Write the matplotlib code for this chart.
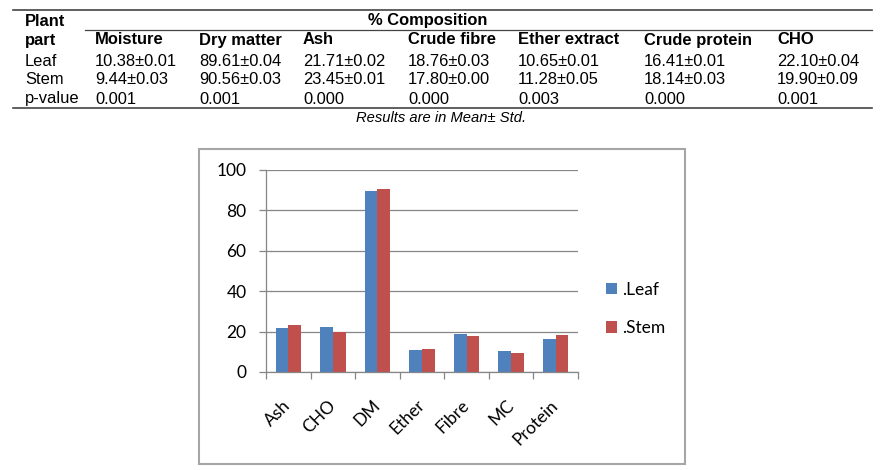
import numpy as np
import matplotlib
matplotlib.use("Agg")
import matplotlib.pyplot as plt
from matplotlib.patches import Rectangle
from matplotlib.lines import Line2D

# table data
columns = ["Moisture", "Dry matter", "Ash", "Crude fibre", "Ether extract", "Crude protein", "CHO"]
leaf_row = ["10.38±0.01", "89.61±0.04", "21.71±0.02", "18.76±0.03", "10.65±0.01", "16.41±0.01", "22.10±0.04"]
stem_row = ["9.44±0.03", "90.56±0.03", "23.45±0.01", "17.80±0.00", "11.28±0.05", "18.14±0.03", "19.90±0.09"]
p_row = ["0.001", "0.001", "0.000", "0.000", "0.003", "0.000", "0.001"]

# chart data
categories = ["Ash", "CHO", "DM", "Ether", "Fibre", "MC", "Protein"]
leaf = [21.71, 22.10, 89.61, 10.65, 18.76, 10.38, 16.41]
stem = [23.45, 19.90, 90.56, 11.28, 17.80, 9.44, 18.14]

W, H = 886, 470
fig = plt.figure(figsize=(W / 100, H / 100), dpi=100)


def fx(x):
    return x / W


def fy(y):
    return 1 - y / H


tfont = "Liberation Sans"
fs = 11.9

# table rules
fig.add_artist(Line2D([fx(13), fx(872)], [fy(9.5), fy(9.5)], color="#444444", lw=1.2))
fig.add_artist(Line2D([fx(85), fx(872)], [fy(30), fy(30)], color="#444444", lw=0.9))
fig.add_artist(Line2D([fx(13), fx(872)], [fy(108), fy(108)], color="#444444", lw=1.2))

fig.text(fx(25), fy(21), "Plant", family=tfont, fontsize=fs, weight="bold", va="center")
fig.text(fx(25), fy(40), "part", family=tfont, fontsize=fs, weight="bold", va="center")
fig.text(fx(428), fy(21), "% Composition", family=tfont, fontsize=fs, weight="bold",
         va="center", ha="center")

col_x = [95, 199, 303, 408, 518, 644, 777]
for x, name in zip(col_x, columns):
    fig.text(fx(x), fy(40), name, family=tfont, fontsize=fs, weight="bold", va="center")

for y, label, row in [(61, "Leaf", leaf_row), (80, "Stem", stem_row), (99, "p-value", p_row)]:
    fig.text(fx(25), fy(y), label, family=tfont, fontsize=fs, va="center")
    for x, val in zip(col_x, row):
        fig.text(fx(x), fy(y), val, family=tfont, fontsize=fs, va="center")

fig.text(fx(441), fy(118), "Results are in Mean± Std.", family=tfont, fontsize=10.6,
         style="italic", ha="center", va="center")

# chart frame
fig.add_artist(Rectangle((fx(199), fy(464)), fx(685) - fx(199), fy(149) - fy(464),
                         transform=fig.transFigure, fill=False, edgecolor="#A6A6A6", lw=1.5))

ax = fig.add_axes([fx(266), fy(372), fx(578) - fx(266), fy(170) - fy(372)])
cfont = "Lato"
x = np.arange(len(categories))
bw = 0.285
ax.bar(x - bw / 2, leaf, bw, color="#4F81BD", label=".Leaf")
ax.bar(x + bw / 2, stem, bw, color="#C0504D", label=".Stem")

ax.set_xlim(-0.5, len(categories) - 0.5)
ax.set_ylim(0, 100)
ax.set_yticks(range(0, 101, 20))
ax.yaxis.grid(True, color="#868686", lw=0.9)
ax.set_axisbelow(True)
for s in ["top", "right"]:
    ax.spines[s].set_visible(False)
for s in ["left", "bottom"]:
    ax.spines[s].set_color("#868686")
    ax.spines[s].set_linewidth(0.9)

ax.set_xticks(x)
ax.set_xticklabels(categories, rotation=45, ha="right", va="center", rotation_mode="anchor",
                   family=cfont, fontsize=12.5)
ax.tick_params(axis="x", which="major", length=0, pad=22)
ax.set_xticks(np.arange(-0.5, len(categories)), minor=True)
ax.tick_params(axis="x", which="minor", length=5, color="#868686", width=0.9)
ax.tick_params(axis="y", length=5, color="#868686", width=0.9, pad=9)
for lab in ax.get_yticklabels():
    lab.set_family(cfont)
    lab.set_fontsize(12.5)

fig.legend(loc="center left", bbox_to_anchor=(fx(590), fy(309)), frameon=False,
           handlelength=0.65, handleheight=0.65, handletextpad=0.3, labelspacing=1.3,
           prop={"family": cfont, "size": 12.5})

fig.savefig("out.png", dpi=100)
